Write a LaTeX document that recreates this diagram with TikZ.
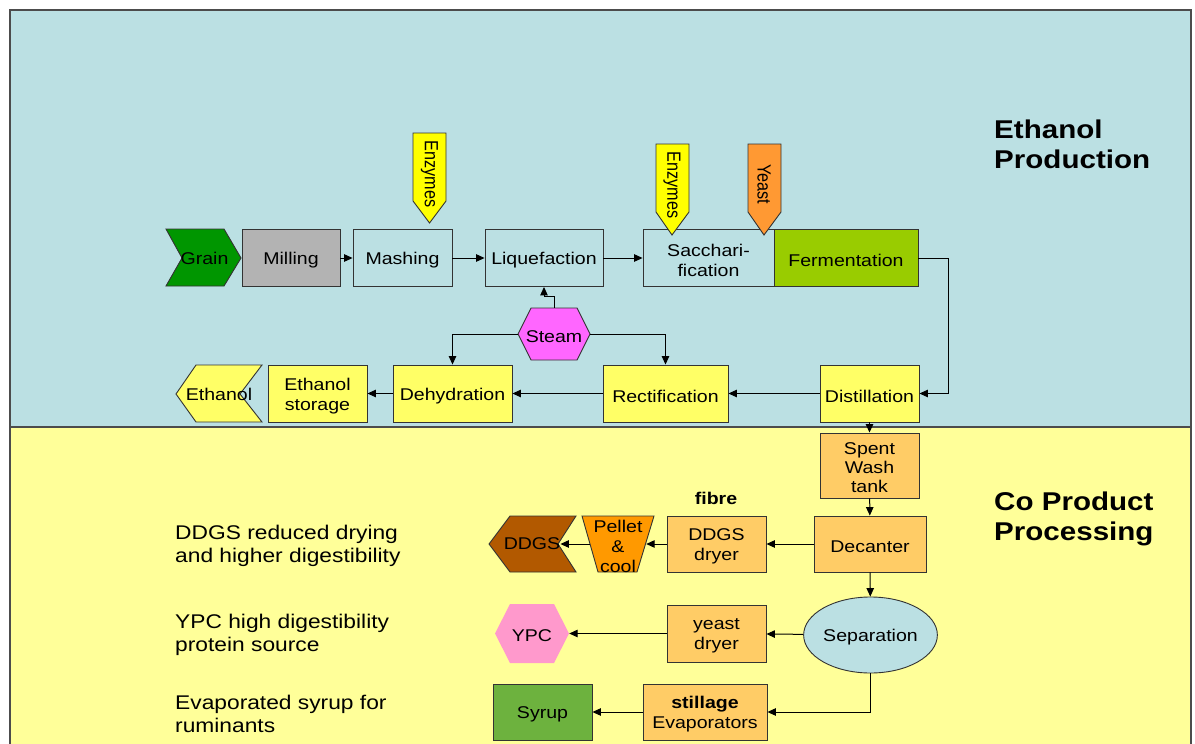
\documentclass[tikz,border=0pt]{standalone}
\usepackage{fontspec}
\usepackage{graphicx}
\setmainfont{Liberation Sans}[FakeStretch=1.15]
\newfontfamily\plainfont{Liberation Sans}
\usetikzlibrary{arrows.meta,shapes.geometric}
\definecolor{bgblue}{RGB}{187,224,227}
\definecolor{bgyellow}{RGB}{255,255,153}
\definecolor{graingreen}{RGB}{0,150,0}
\definecolor{millgray}{RGB}{179,179,179}
\definecolor{fermgreen}{RGB}{153,204,0}
\definecolor{enzyellow}{RGB}{255,255,0}
\definecolor{yeastorange}{RGB}{255,153,51}
\definecolor{steammag}{RGB}{255,102,255}
\definecolor{ethyellow}{RGB}{255,255,102}
\definecolor{coorange}{RGB}{255,204,102}
\definecolor{pelletorange}{RGB}{255,153,0}
\definecolor{ddgsbrown}{RGB}{178,89,0}
\definecolor{ypcpink}{RGB}{255,153,204}
\definecolor{syrupgreen}{RGB}{109,178,62}
\newcommand{\nodefont}{\fontsize{17}{20}\selectfont}
\newcommand{\rotfont}{\plainfont\fontsize{16.2}{19}\selectfont}
\newcommand{\sidefont}{\fontsize{19.8}{23}\selectfont}
\newcommand{\titlefont}{\fontsize{25.7}{30}\selectfont\bfseries}
\newcommand{\dn}[1]{\raisebox{0pt}[\dimexpr\height+5pt\relax][\depth]{#1}}
\newcommand{\rtxt}[1]{\scalebox{1}[1.18]{#1}}
\begin{document}
\begin{tikzpicture}[x=1pt,y=-1pt,
  box/.style={draw=black!80, line width=0.9pt, minimum height=57pt, inner sep=1pt, align=center, font=\nodefont},
  shp/.style={draw=black!80, line width=0.9pt},
  lbl/.style={inner sep=0pt, align=center, font=\nodefont},
  rlbl/.style={inner sep=0pt, align=center, font=\rotfont, rotate=-90},
  side/.style={anchor=west, align=left, inner sep=0pt, font=\sidefont},
  ttl/.style={anchor=west, align=left, inner sep=0pt, font=\titlefont},
  arr/.style={-{Triangle[length=8.5pt,width=7.5pt]}, line width=1pt}]
\useasboundingbox (0,0) rectangle (1195,744);
\fill[white] (0,0) rectangle (1195,744);
\fill[bgblue] (10,10) rectangle (1191,427);
\fill[bgyellow] (10,427) rectangle (1191,744);
\draw[line width=1.5pt, draw=black!70] (10,744) -- (10,10) -- (1191,10) -- (1191,744);
\draw[line width=1.5pt, draw=black!70] (10,427) -- (1191,427);

% titles
\node[ttl] (t1) at (994,144) {Ethanol\\Production};
\node[ttl] (t2) at (994,519) {Co Product\\Processing};

% ---------- top row ----------
\filldraw[shp, fill=graingreen] (166,229) -- (224,229) -- (241,258) -- (224,286) -- (166,286) -- (182,258) -- cycle;
\node[lbl] (grain) at (204.5,258) {Grain};
\node[box, fill=millgray, minimum width=98pt] (mill) at (291,258) {\dn{Milling}};
\node[box, fill=bgblue, minimum width=99pt] (mash) at (402.5,258) {\dn{Mashing}};
\node[box, fill=bgblue, minimum width=118pt] (liq) at (544,258) {\dn{Liquefaction}};
\node[box, fill=bgblue, minimum width=131pt] (sacch) at (708.5,258) {\dn{Sacchari-}\\fication};
\node[box, fill=fermgreen, minimum width=144pt] (ferm) at (846,258) {\dn{Fermentation}};

% input arrows
\filldraw[shp, fill=enzyellow] (413,133) -- (446,133) -- (446,201) -- (429.5,223) -- (413,201) -- cycle;
\node[rlbl] (enz1) at (429.5,174) {\rtxt{Enzymes}};
\filldraw[shp, fill=enzyellow] (656,144) -- (689,144) -- (689,212) -- (672,235) -- (656,212) -- cycle;
\node[rlbl] (enz2) at (672,185) {\rtxt{Enzymes}};
\filldraw[shp, fill=yeastorange] (748,144) -- (781,144) -- (781,212) -- (764,235) -- (748,212) -- cycle;
\node[rlbl] (yeast) at (764,184) {\rtxt{Yeast}};

% steam
\filldraw[shp, fill=steammag] (518,334) -- (531,308) -- (577,308) -- (590,334) -- (577,360) -- (531,360) -- cycle;
\node[lbl, minimum width=72pt, minimum height=52pt] (steam) at (554,334) {\dn{Steam}};

% ---------- second row ----------
\filldraw[shp, fill=ethyellow] (176,394) -- (196,365) -- (262,365) -- (240,394) -- (262,422) -- (196,422) -- cycle;
\node[lbl] (eth) at (219,394) {Ethanol};
\node[box, fill=ethyellow, minimum width=99pt] (store) at (317.5,393.5) {\dn{Ethanol}\\storage};
\node[box, fill=ethyellow, minimum width=119pt] (dehyd) at (452.5,393.5) {\dn{Dehydration}};
\node[box, fill=ethyellow, minimum width=125pt] (rect) at (665.5,393.5) {\dn{Rectification}};
\node[box, fill=ethyellow, minimum width=99pt] (dist) at (869.5,393.5) {\dn{Distillation}};

% ---------- co-product ----------
\node[box, fill=coorange, minimum width=99pt, minimum height=65pt, font=\fontsize{17}{19}\selectfont] (spent) at (869.5,465.5) {\dn{Spent}\\Wash\\tank};
\node[box, fill=coorange, minimum width=112pt, minimum height=56pt] (dec) at (870,544) {\dn{Decanter}};
\node[box, fill=coorange, minimum width=99pt, minimum height=56pt] (ddryer) at (716.5,544) {\dn{DDGS}\\dryer};
\node[font=\fontsize{17}{20}\selectfont\bfseries, inner sep=0pt] (fibre) at (716,498) {fibre};
\filldraw[shp, fill=pelletorange] (582,516) -- (654,516) -- (637,572) -- (598,572) -- cycle;
\node[lbl, minimum width=56pt, minimum height=56pt] (pellet) at (618,544) {\dn{Pellet}\\\&\\cool};
\filldraw[shp, fill=ddgsbrown] (489,544) -- (510,516) -- (576,516) -- (558,544) -- (576,572) -- (510,572) -- cycle;
\node[lbl, minimum width=52pt] (ddgs) at (532,544) {DDGS};

\node[ellipse, draw=black!80, line width=0.9pt, fill=bgblue, minimum width=131pt, minimum height=76pt, inner sep=0pt, font=\nodefont] (sep) at (870.5,635) {\dn{Separation}};
\node[box, fill=coorange, minimum width=99pt, minimum height=57pt] (ydryer) at (716.5,633.5) {\dn{yeast}\\dryer};
\fill[ypcpink] (495,633.5) -- (510,604) -- (554,604) -- (569,633.5) -- (554,663) -- (510,663) -- cycle;
\node[lbl, minimum width=74pt, minimum height=59pt] (ypc) at (532,633.5) {\dn{YPC}};
\node[box, fill=coorange, minimum width=124pt, minimum height=56pt] (evap) at (705,712) {\dn{\textbf{stillage}}\\Evaporators};
\node[box, fill=syrupgreen, minimum width=99pt, minimum height=56pt] (syrup) at (542.5,712) {\dn{Syrup}};

% side notes
\node[side] (n1) at (175,545.5) {DDGS reduced drying\\and higher digestibility};
\node[side] (n2) at (175,634.5) {YPC high digestibility\\protein source};
\node[side] (n3) at (175,713.5) {Evaporated syrup for\\ruminants};

% ---------- connectors ----------
\draw[arr] (mill) -- (mash);
\draw[arr] (mash) -- (liq);
\draw[arr] (liq) -- (sacch);
\draw[arr] (ferm.east) -- ++(30,0) |- (dist.east);
\draw[arr] (steam.north) -- ++(0,-11) -| (liq.south);
\draw[arr] (steam.west) -| (dehyd.north);
\draw[arr] (steam.east) -| (rect.north);
\draw[arr] (dist) -- (rect);
\draw[arr] (rect) -- (dehyd);
\draw[arr] (dehyd) -- (store);
\draw[arr] (dist) -- (spent);
\draw[arr] (spent) -- (dec);
\draw[arr] (dec) -- (ddryer);
\draw[arr] (ddryer.west) -- (pellet.east);
\draw[arr] (pellet.west) -- (ddgs.east);
\draw[arr] (dec) -- (sep);
\draw[arr] (sep) -- (ydryer);
\draw[arr] (ydryer.west) -- (ypc.east);
\draw[arr] (sep.south) |- (evap.east);
\draw[arr] (evap) -- (syrup);
\end{tikzpicture}
\end{document}
